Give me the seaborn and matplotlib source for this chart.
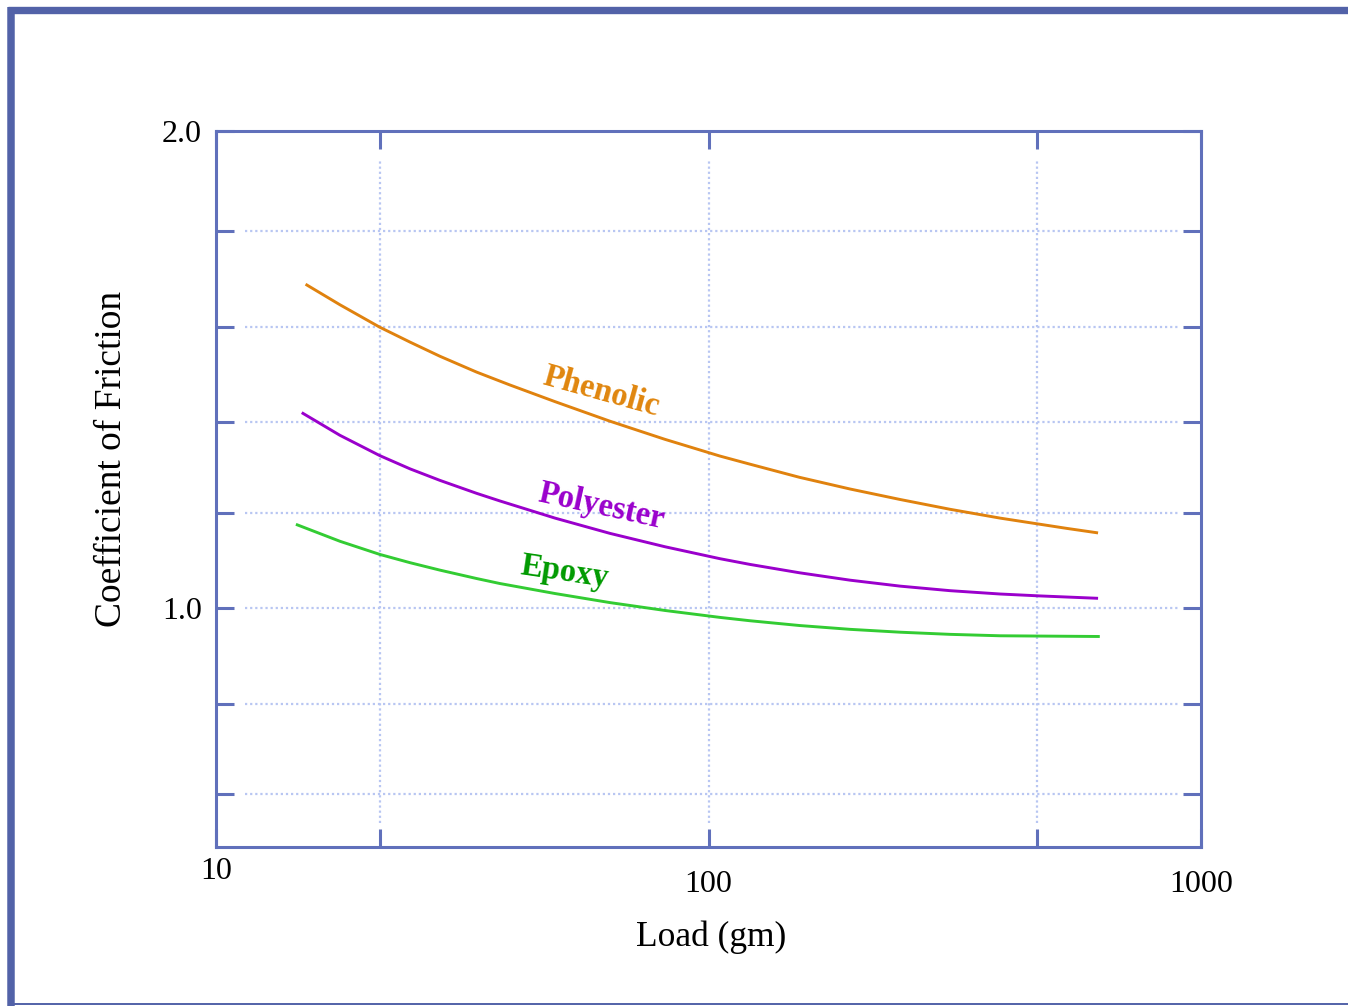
import numpy as np
import pandas as pd
import matplotlib
matplotlib.use("Agg")
import matplotlib.pyplot as plt
from matplotlib.lines import Line2D
from matplotlib.ticker import NullLocator
import seaborn as sns

# ---- data ----
phenolic_load = [15.2, 17.85, 21.5, 24.8, 28.5, 33.8, 39.5, 48.8, 63.1, 81.6, 105.5,
                 121.4, 153, 193.8, 245, 309.3, 391, 533.8, 618]
phenolic_cof = [1.679, 1.636, 1.589, 1.5575, 1.528, 1.495, 1.468, 1.433, 1.392, 1.354, 1.319,
                1.302, 1.2745, 1.250, 1.228, 1.2075, 1.189, 1.1675, 1.158]
polyester_load = [14.93, 17.85, 21.5, 24.8, 28.5, 33.8, 37.7, 48.8, 63.1, 81.6, 105.5,
                  121.4, 153, 193.8, 245, 309.3, 391, 471, 618]
polyester_cof = [1.410, 1.3625, 1.320, 1.292, 1.268, 1.241, 1.225, 1.189, 1.157, 1.129, 1.104,
                 1.092, 1.0745, 1.059, 1.0465, 1.037, 1.030, 1.026, 1.021]
epoxy_load = [14.53, 17.85, 21.5, 24.8, 28.5, 33.8, 37.7, 48.8, 63.1, 81.6, 105.5,
              121.4, 153, 193.8, 245, 309.3, 391, 623]
epoxy_cof = [1.176, 1.1405, 1.113, 1.0955, 1.080, 1.0625, 1.052, 1.031, 1.012, 0.9955, 0.981,
             0.974, 0.964, 0.956, 0.950, 0.9455, 0.9425, 0.941]

materials = ["Phenolic", "Polyester", "Epoxy"]
x_ticks = [10, 10 ** (4 / 3), 100, 10 ** (8 / 3), 1000]
x_ticklabels = ["", "", "100", "", "1000"]
y_ticks = [0.61, 0.80, 1.0, 1.20, 1.39, 1.59, 1.79, 2.0]
y_ticklabels = ["", "", "1.0", "", "", "", "", "2.0"]

df = pd.concat([
    pd.DataFrame({"load": phenolic_load, "cof": phenolic_cof, "material": "Phenolic"}),
    pd.DataFrame({"load": polyester_load, "cof": polyester_cof, "material": "Polyester"}),
    pd.DataFrame({"load": epoxy_load, "cof": epoxy_cof, "material": "Epoxy"}),
], ignore_index=True)

line_colors = {"Phenolic": "#e0820e", "Polyester": "#9a00cc", "Epoxy": "#33cc33"}
label_colors = {"Phenolic": "#e0860e", "Polyester": "#9a00cc", "Epoxy": "#009a00"}

sns.set_theme(style="white")
plt.rcParams["font.family"] = ["Liberation Serif", "DejaVu Serif"]

W, H, DPI = 1348, 1006, 100
fig = plt.figure(figsize=(W / DPI, H / DPI), dpi=DPI)
fig.patch.set_facecolor("white")

# axes box in pixel terms: x 216..1201, y 131..847
ax = fig.add_axes([216 / W, 1 - 847 / H, (1201 - 216) / W, (847 - 131) / H])
ax.set_facecolor("white")

sns.lineplot(data=df, x="load", y="cof", hue="material", palette=line_colors,
             hue_order=materials, linewidth=2.1, legend=False, ax=ax,
             solid_joinstyle="round", solid_capstyle="butt")

ax.set_xscale("log")
ax.set_xlim(10, 1000)
ax.set_ylim(0.5, 2.0)
ax.set_xticks(x_ticks)
ax.set_xticklabels(x_ticklabels)
ax.xaxis.set_minor_locator(NullLocator())
ax.set_yticks(y_ticks)
ax.set_yticklabels(y_ticklabels)

spine_col = "#6070bb"
for s in ax.spines.values():
    s.set_color(spine_col)
    s.set_linewidth(2.2)
ax.tick_params(axis="both", which="major", direction="in", length=13, width=2.2,
               color=spine_col, top=True, right=True, bottom=True, left=True,
               labelsize=23, labelcolor="black")
ax.tick_params(axis="x", pad=16.5)
ax.tick_params(axis="y", pad=10)

# "10" label sits higher than the others
ax.text(10, -10 / 716, "10", transform=ax.get_xaxis_transform(), ha="center", va="top",
        fontsize=23, color="black")

# dotted grid, not touching the frame
grid_col = "#b8c6f2"
for yv in y_ticks[:-1]:
    ax.plot([0.0294, 0.977], [yv, yv], transform=ax.get_yaxis_transform(), color=grid_col,
            lw=1.6, linestyle=(0, (1, 1.3)), zorder=0.5)
for xv in x_ticks[1:-1]:
    ax.plot([xv, xv], [0.0335, 0.961], transform=ax.get_xaxis_transform(), color=grid_col,
            lw=1.6, linestyle=(0, (1, 1.3)), zorder=0.5)

ax.set_xlabel("Load (gm)", fontsize=25.5, color="black")
ax.set_ylabel("Coefficient of Friction", fontsize=27, color="black")
ax.xaxis.set_label_coords((711 - 216) / 985, (847 - 920) / 716)
ax.yaxis.set_label_coords((129 - 216) / 985, (847 - 459) / 716)

# curve labels
label_pos = {"Phenolic": (60.0, 1.4365, -15.5),
             "Polyester": (60.2, 1.196, -12.3),
             "Epoxy": (50.8, 1.058, -8.5)}
for m in materials:
    x, y, rot = label_pos[m]
    ax.text(x, y, m, color=label_colors[m], fontsize=23.5, fontweight="bold",
            rotation=rot, rotation_mode="anchor", ha="center", va="baseline")

# outer frame
frame_col = "#5262a8"
fig.add_artist(Line2D([11.3 / W, 11.3 / W], [0, 1 - 6.7 / H], transform=fig.transFigure,
                      color=frame_col, lw=5.4, solid_capstyle="butt"))
fig.add_artist(Line2D([7.5 / W, 1], [1 - 10.3 / H, 1 - 10.3 / H], transform=fig.transFigure,
                      color=frame_col, lw=5.3, solid_capstyle="butt"))
fig.add_artist(Line2D([7.5 / W, 1], [1 - 1004 / H, 1 - 1004 / H], transform=fig.transFigure,
                      color=frame_col, lw=1.4, solid_capstyle="butt"))

fig.savefig("out.png", dpi=DPI, facecolor="white")
